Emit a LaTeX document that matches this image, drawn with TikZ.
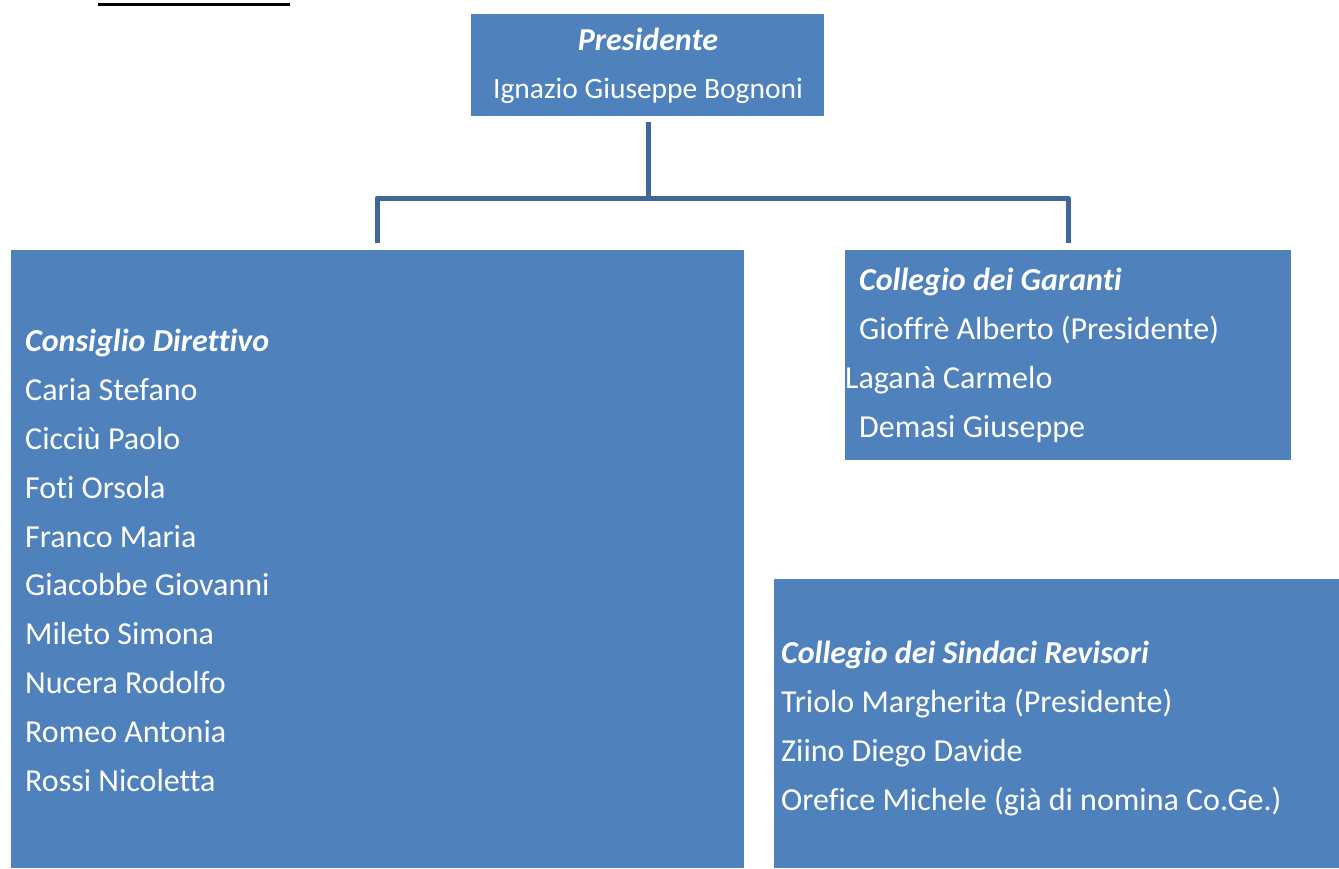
\documentclass[tikz,border=0pt]{standalone}
\usepackage{fontspec}
\setmainfont{Carlito}[Ligatures=NoCommon]
\definecolor{boxblue}{HTML}{4F81BD}
\definecolor{linkblue}{HTML}{40669A}
\begin{document}
\begin{tikzpicture}[x=1pt,y=-1pt,
  box/.style={fill=boxblue,draw=none},
  txt/.style={anchor=base west,inner sep=0pt,text=white,font=\fontsize{32}{38}\selectfont},
  ttl/.style={txt,font=\fontsize{32}{38}\selectfont\bfseries\itshape},
  link/.style={draw=linkblue,line width=5pt,line join=round}]
\useasboundingbox (0,0) rectangle (1339,868);
% heading (cut off at the top)
\node[anchor=base west,inner sep=0pt,font=\fontsize{32}{38}\selectfont] (head) at (98,-6) {Organigramma};
\draw[line width=3.5pt] (98,4.5) -- (290,4.5);
% boxes
\path[box] (471,14) rectangle (824,116);
\coordinate (pres) at (648,122);
\path[box] (11,250) rectangle (744,868);
\coordinate (cons) at (377,243);
\path[box] (845,250) rectangle (1291,460);
\coordinate (gar) at (1068,243);
\path[box] (774,579) rectangle (1345,868);
% presidente text
\node[anchor=base,inner sep=0pt,text=white,font=\fontsize{32}{38}\selectfont\bfseries\itshape] (p1) at (648,50) {Presidente};
\node[anchor=base,inner sep=0pt,text=white,font=\fontsize{29.5}{35}\selectfont] (p2) at (648,98) {Ignazio Giuseppe Bognoni};
% connector
\coordinate (mid) at (648,198);
\draw[link] (pres) -- (mid);
\draw[link] (cons) -- (cons |- mid) -- (gar |- mid) -- (gar);
% consiglio direttivo
\node[ttl] (c0) at (25,351) {Consiglio Direttivo};
\node[txt] (c1) at (25,400) {Caria Stefano};
\node[txt] (c2) at (25,449) {Cicciù Paolo};
\node[txt] (c3) at (25,498) {Foti Orsola};
\node[txt] (c4) at (25,547) {Franco Maria};
\node[txt] (c5) at (25,595) {Giacobbe Giovanni};
\node[txt] (c6) at (25,644) {Mileto Simona};
\node[txt] (c7) at (25,693) {Nucera Rodolfo};
\node[txt] (c8) at (25,742) {Romeo Antonia};
\node[txt] (c9) at (25,791) {Rossi Nicoletta};
% garanti
\node[ttl] (g0) at (859,290) {Collegio dei Garanti};
\node[txt] (g1) at (859,339) {Gioffrè Alberto (Presidente)};
\node[txt] (g2) at (845,388) {Laganà Carmelo};
\node[txt] (g3) at (859,437) {Demasi Giuseppe};
% sindaci
\node[ttl] (s0) at (781,663) {Collegio dei Sindaci Revisori};
\node[txt] (s1) at (781,712) {Triolo Margherita (Presidente)};
\node[txt] (s2) at (781,761) {Ziino Diego Davide};
\node[txt] (s3) at (781,810) {Orefice Michele (già di nomina Co.Ge.)};
\end{tikzpicture}
\end{document}
